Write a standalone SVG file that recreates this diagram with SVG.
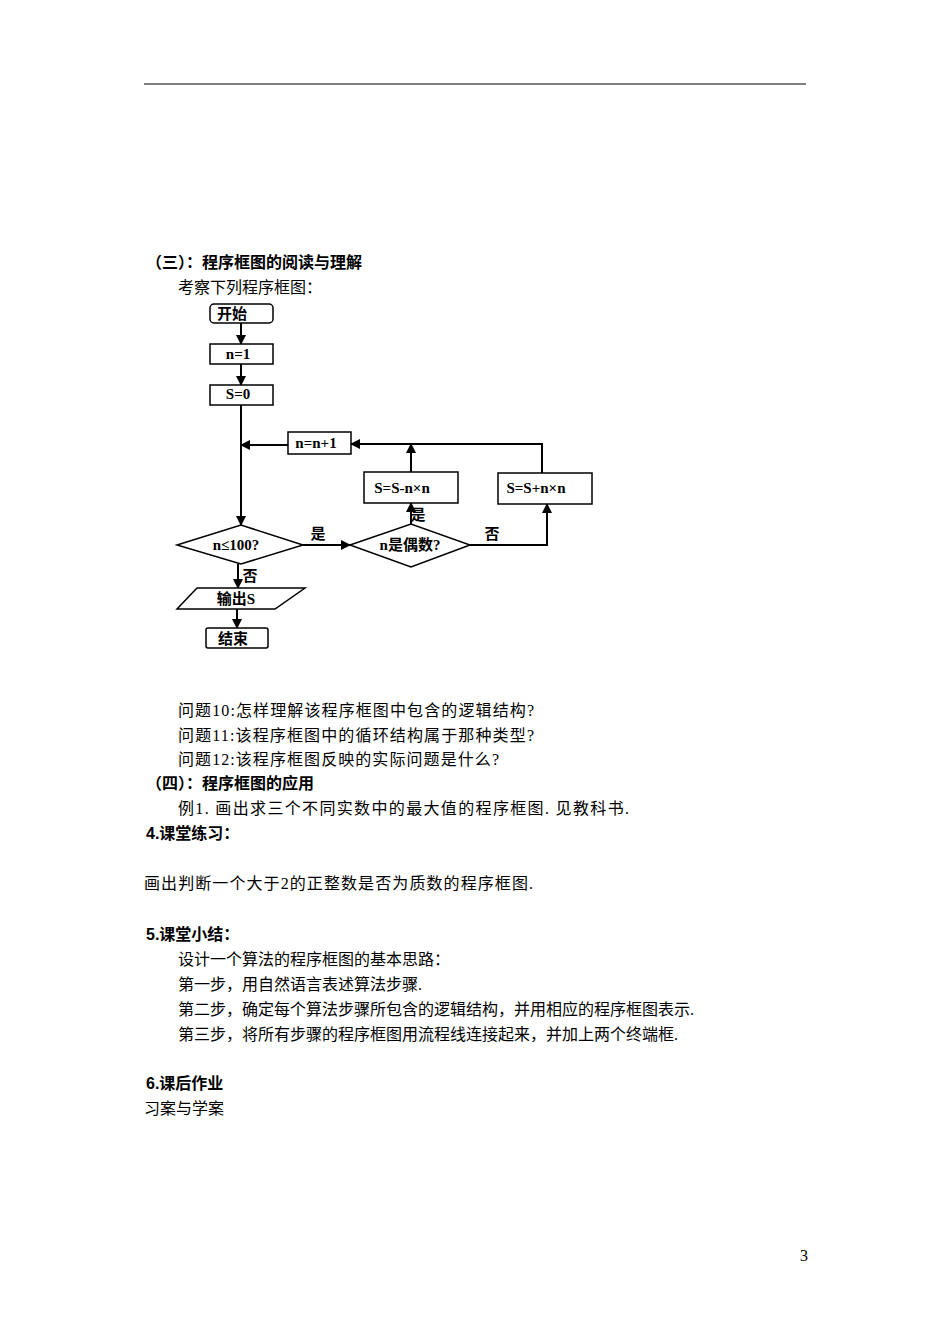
<svg xmlns="http://www.w3.org/2000/svg" width="950" height="1344" viewBox="0 0 950 1344">
<style>
.t{font-family:"Liberation Serif","Noto Sans CJK SC",serif;font-size:16px;fill:#000}
.b{font-family:"Liberation Sans","Noto Sans CJK SC",sans-serif;font-size:16px;font-weight:bold;fill:#000}
.n{fill:#fff;stroke:#000;stroke-width:1.5}
.l{font-family:"Liberation Serif","Noto Sans CJK SC",serif;font-size:15px;font-weight:bold;fill:#000;text-anchor:middle}
.c{stroke:#000;stroke-width:2;fill:none}
</style>
<defs><marker id="a" viewBox="0 0 10 10" refX="9" refY="5" markerWidth="5" markerHeight="5" orient="auto"><path d="M0,0L10,5L0,10z" fill="#000"/></marker></defs>
<rect width="950" height="1344" fill="#fff"/>
<line x1="144" y1="84" x2="806" y2="84" stroke="#000" stroke-width="1"/>
<text class="b" x="146" y="268">（三）：程序框图的阅读与理解</text>
<text class="t" x="178" y="293">考察下列程序框图：</text>
<g id="connectors">
<line class="c" x1="241" y1="323" x2="241" y2="344" marker-end="url(#a)"/>
<line class="c" x1="241" y1="364" x2="241" y2="385" marker-end="url(#a)"/>
<line class="c" x1="241" y1="405" x2="241" y2="525" marker-end="url(#a)"/>
<line class="c" x1="288" y1="445" x2="241" y2="445" marker-end="url(#a)"/>
<polyline class="c" points="542,473 542,444 351,444" stroke-width="3" marker-end="url(#a)"/>
<line class="c" x1="411" y1="472" x2="411" y2="444" stroke-width="3" marker-end="url(#a)"/>
<line class="c" x1="303" y1="545" x2="350" y2="545" stroke-width="3" marker-end="url(#a)"/>
<line class="c" x1="411" y1="524" x2="411" y2="503" stroke-width="3" marker-end="url(#a)"/>
<polyline class="c" points="470,545 547,545 547,504" stroke-width="2.5" marker-end="url(#a)"/>
<line class="c" x1="238" y1="564" x2="238" y2="588" stroke-width="3" marker-end="url(#a)"/>
<line class="c" x1="237" y1="609" x2="237" y2="628" stroke-width="3" marker-end="url(#a)"/>
<text class="l" x="318" y="539">是</text>
<text class="l" x="418" y="520">是</text>
<text class="l" x="492" y="539">否</text>
<text class="l" x="250" y="581">否</text>
</g>
<g id="start"><rect class="n" x="210" y="304" width="63" height="19" rx="4"/><text class="l" x="232" y="319">开始</text></g>
<g id="n1"><rect class="n" x="210" y="344" width="63" height="20"/><text class="l" x="238" y="359">n=1</text></g>
<g id="s0"><rect class="n" x="210" y="385" width="63" height="20"/><text class="l" x="238" y="399">S=0</text></g>
<g id="inc"><rect class="n" x="288" y="432" width="63" height="22"/><text class="l" x="316" y="448">n=n+1</text></g>
<g id="sub"><rect class="n" x="364" y="472" width="94" height="31"/><text class="l" x="402" y="493">S=S-n×n</text></g>
<g id="add"><rect class="n" x="498" y="473" width="94" height="31"/><text class="l" x="536" y="493">S=S+n×n</text></g>
<g id="d1"><polygon class="n" points="177,545 241,525 303,545 241,564" stroke-width="1"/><text class="l" x="236" y="550">n≤100?</text></g>
<g id="d2"><polygon class="n" points="350,545 411,524 470,545 411,567" stroke-width="1"/><text class="l" x="410" y="550">n是偶数?</text></g>
<g id="out"><polygon class="n" points="197,588 305,588 275,609 177,609" stroke-width="1"/><text class="l" x="236" y="604">输出S</text></g>
<g id="end"><rect class="n" x="206" y="628" width="62" height="20" rx="2"/><text class="l" x="233" y="644">结束</text></g>
<text class="t" x="178" y="716" textLength="356">问题10:怎样理解该程序框图中包含的逻辑结构?</text>
<text class="t" x="178" y="741" textLength="356">问题11:该程序框图中的循环结构属于那种类型?</text>
<text class="t" x="178" y="765" textLength="321">问题12:该程序框图反映的实际问题是什么?</text>
<text class="b" x="146" y="789">（四）：程序框图的应用</text>
<text class="t" x="178" y="814" textLength="451">例1. 画出求三个不同实数中的最大值的程序框图. 见教科书.</text>
<text class="b" x="146" y="839">4.课堂练习：</text>
<text class="t" x="144" y="889" textLength="389">画出判断一个大于2的正整数是否为质数的程序框图.</text>
<text class="b" x="146" y="940">5.课堂小结：</text>
<text class="t" x="178" y="965">设计一个算法的程序框图的基本思路：</text>
<text class="t" x="178" y="990">第一步，用自然语言表述算法步骤.</text>
<text class="t" x="178" y="1015">第二步，确定每个算法步骤所包含的逻辑结构，并用相应的程序框图表示.</text>
<text class="t" x="178" y="1040">第三步，将所有步骤的程序框图用流程线连接起来，并加上两个终端框.</text>
<text class="b" x="146" y="1089">6.课后作业</text>
<text class="t" x="144" y="1114">习案与学案</text>
<text class="t" x="800" y="1261" font-size="13">3</text>
</svg>
